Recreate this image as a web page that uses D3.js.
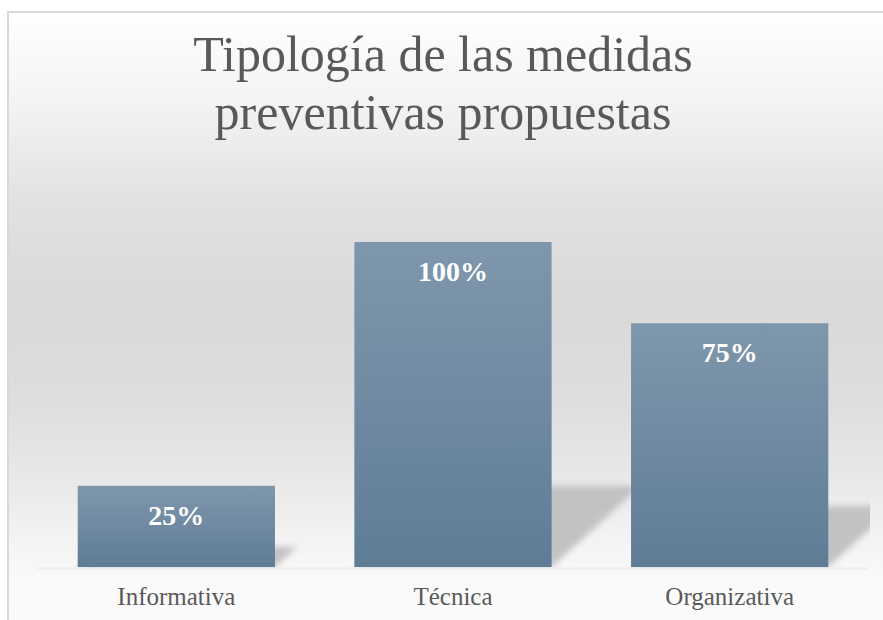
<!DOCTYPE html>
<html>
<head>
<meta charset="utf-8">
<script src="https://cdn.jsdelivr.net/npm/d3@7"></script>
<style>
  html, body { margin: 0; padding: 0; background: #ffffff; }
  svg { display: block; }
</style>
</head>
<body>
<div id="chart"></div>
<script>
// ---- data ----
const categories = ["Informativa", "Técnica", "Organizativa"];
const values = [25, 100, 75];
const titleLines = ["Tipología de las medidas", "preventivas propuestas"];

const W = 883, H = 620;
const svg = d3.select("#chart").append("svg").attr("width", W).attr("height", H);
const defs = svg.append("defs");

// background gradient
const bg = defs.append("linearGradient").attr("id", "bg")
  .attr("x1", 0).attr("y1", 0).attr("x2", 0).attr("y2", 1);
[[0, "#ffffff"], [0.15, "#f3f3f3"], [0.3, "#e2e2e2"], [0.47, "#d9d9d9"],
 [0.63, "#dedede"], [0.75, "#e8e8e8"], [0.85, "#f3f3f3"], [0.92, "#fafafa"], [1, "#fbfbfb"]]
  .forEach(([o, c]) => bg.append("stop").attr("offset", o).attr("stop-color", c));

const barGrad = defs.append("linearGradient").attr("id", "barGrad")
  .attr("x1", 0).attr("y1", 0).attr("x2", 0).attr("y2", 1);
barGrad.append("stop").attr("offset", 0).attr("stop-color", "#7f97ac");
barGrad.append("stop").attr("offset", 1).attr("stop-color", "#5f7c97");

defs.append("filter").attr("id", "blur").attr("x", "-20%").attr("y", "-30%")
  .attr("width", "140%").attr("height", "160%")
  .append("feGaussianBlur").attr("stdDeviation", 3);

const x0 = 38, x1 = 868, yBase = 567, yTop = 242;

defs.append("clipPath").attr("id", "plotClip").append("rect")
  .attr("x", x0).attr("y", 0).attr("width", x1 - x0 + 2).attr("height", yBase + 1);

// chart area background and border
svg.append("rect").attr("x", 8).attr("y", 12).attr("width", W).attr("height", H)
  .attr("fill", "url(#bg)");
svg.append("line").attr("x1", 8).attr("x2", 8).attr("y1", 11).attr("y2", H)
  .attr("stroke", "#d9d9d9").attr("stroke-width", 2);
svg.append("line").attr("x1", 7).attr("x2", W).attr("y1", 12).attr("y2", 12)
  .attr("stroke", "#d9d9d9").attr("stroke-width", 2);

// scales
const x = d3.scaleBand().domain(categories).range([x0, x1]).paddingInner(0.287).paddingOuter(0.1435);
const y = d3.scaleLinear().domain([0, 100]).range([yBase, yTop]);

const data = categories.map((c, i) => ({ c, v: values[i] }));

// shadows
const k = 0.25, slope = 1.1;
svg.append("g").attr("clip-path", "url(#plotClip)")
  .selectAll("polygon").data(data).join("polygon")
  .attr("points", d => {
    const a = x(d.c), b = x(d.c) + x.bandwidth();
    const h = (yBase - y(d.v)) * k;
    const s = h * slope;
    return [[a, yBase], [b, yBase], [b + s, yBase - h], [a + s, yBase - h]].join(" ");
  })
  .attr("fill", "#c2c2c2")
  .attr("filter", "url(#blur)");

// baseline
svg.append("line").attr("x1", x0).attr("x2", x1).attr("y1", yBase + 1.5).attr("y2", yBase + 1.5)
  .attr("stroke", "#ececec").attr("stroke-width", 2);

// bars
svg.append("g").selectAll("rect").data(data).join("rect")
  .attr("x", d => x(d.c))
  .attr("y", d => y(d.v))
  .attr("width", x.bandwidth())
  .attr("height", d => yBase - y(d.v))
  .attr("fill", "url(#barGrad)");

// value labels
svg.append("g").selectAll("text").data(data).join("text")
  .attr("x", d => x(d.c) + x.bandwidth() / 2)
  .attr("y", d => y(d.v) + 39)
  .attr("text-anchor", "middle")
  .attr("font-family", "'Liberation Serif', serif")
  .attr("font-weight", "bold")
  .attr("font-size", 28)
  .attr("fill", "#ffffff")
  .text(d => d.v + "%");

// category axis
const xAxis = d3.axisBottom(x).tickSize(0).tickPadding(0);
const ax = svg.append("g").attr("transform", `translate(0, ${yBase})`).call(xAxis);
ax.select(".domain").remove();
ax.selectAll("text")
  .attr("dy", 0).attr("y", 38)
  .attr("font-family", "'Liberation Serif', serif")
  .attr("font-size", 25)
  .attr("fill", "#595959");

// title
svg.append("text")
  .attr("x", 443).attr("text-anchor", "middle")
  .attr("font-family", "'Liberation Serif', serif")
  .attr("font-size", 50)
  .attr("fill", "#595959")
  .selectAll("tspan").data(titleLines).join("tspan")
  .attr("x", 443)
  .attr("y", (d, i) => 71 + i * 58)
  .text(d => d);
</script>
</body>
</html>
